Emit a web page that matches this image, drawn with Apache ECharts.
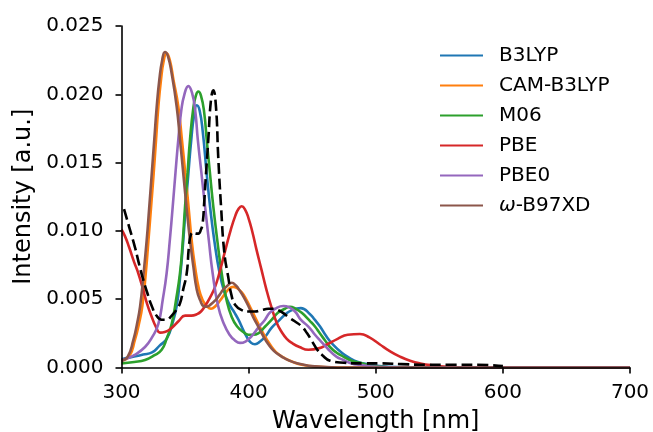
<!DOCTYPE html>
<html>
<head>
<meta charset="utf-8">
<script src="https://cdn.jsdelivr.net/npm/echarts@6/dist/echarts.min.js"></script>
<style>
  html, body { margin: 0; padding: 0; background: #fff; }
  #chart { width: 653px; height: 432px; }
</style>
</head>
<body>
<div id="chart"></div>
<script>
// Simulated absorption spectra of several functionals vs. experiment
// Each list holds [wavelength (nm), intensity (a.u.)]
const b3lyp = [
  [300, 0.0006], [303, 0.00068], [310, 0.0008], [317, 0.00095], [324, 0.0011],
  [330, 0.0016], [335.5, 0.0021], [340, 0.0032], [343.4, 0.0045], [346, 0.0065],
  [348.6, 0.0093], [350.5, 0.0118], [352.6, 0.0142], [355, 0.0168], [357, 0.0184],
  [359.2, 0.0192], [361.5, 0.0188], [364, 0.0172], [367, 0.0142], [370, 0.0115],
  [373, 0.0093], [377, 0.0070], [381, 0.0055], [385, 0.0046], [389, 0.0040],
  [392, 0.0035], [395.5, 0.0028], [398.5, 0.00225], [402, 0.0018], [405, 0.0017],
  [409, 0.0019], [413, 0.00225], [418, 0.0029], [423.4, 0.0034], [429, 0.0039],
  [434, 0.0042], [441, 0.00435], [448.3, 0.0039], [452, 0.0035],
  [456.2, 0.0030], [461, 0.0023], [466.6, 0.00165], [473, 0.0011], [479.8, 0.00067],
  [486, 0.0004], [493, 0.00025], [503, 0.0001], [520, 0.00002], [540, 0], [700, 0]
];
const camB3lyp = [
  [300, 0.0005], [306, 0.0008], [310.5, 0.0020], [313.5, 0.0031], [316.4, 0.0045],
  [319, 0.0068], [321.2, 0.0093], [323.3, 0.0118], [325.3, 0.0142], [327.2, 0.0167],
  [329, 0.0191], [331, 0.0210], [333.3, 0.0225], [335.5, 0.0230], [338, 0.0225],
  [341, 0.0210], [344.7, 0.0191], [347.5, 0.0167], [350.2, 0.0142], [352.7, 0.0118],
  [355.2, 0.0093], [357.8, 0.0074], [361, 0.0057], [364, 0.0049], [367, 0.0045],
  [370.4, 0.0043], [374, 0.0045], [377.5, 0.0049], [381.4, 0.0054], [385, 0.0058],
  [388, 0.0059], [391, 0.0058], [394.6, 0.0055], [398, 0.0050], [402.4, 0.0042],
  [406, 0.0035], [410.3, 0.0027], [414, 0.0021], [418.2, 0.0015], [423, 0.0010],
  [428.6, 0.00067], [435, 0.0004], [441.8, 0.0002], [455, 0.00005], [470, 0], [700, 0]
];
const m06 = [
  [300, 0.0003], [310, 0.0004], [318.5, 0.00055], [326, 0.0009], [331.6, 0.0013],
  [335.5, 0.0021], [339.5, 0.0032], [343, 0.0050], [346, 0.0069], [348, 0.0090],
  [350, 0.0118], [352, 0.0143], [353.9, 0.0167], [356.5, 0.0190], [358.5, 0.0199],
  [360.4, 0.0202], [362.5, 0.0199], [365, 0.0187], [367, 0.0167], [369.5, 0.0143],
  [372.2, 0.0118], [375.5, 0.0092], [378.8, 0.0069], [382.5, 0.0050], [386.7, 0.0037],
  [391, 0.0030], [395.8, 0.0026], [399.8, 0.0024], [403.5, 0.0024], [407.6, 0.0025],
  [413, 0.0030], [418.2, 0.0035], [423, 0.0040], [428.6, 0.0043], [432.5, 0.00445],
  [437, 0.0043], [441.8, 0.0040], [448.3, 0.0034], [452.2, 0.0030], [456, 0.0025],
  [460, 0.0020], [464, 0.0015], [469, 0.0011], [474.5, 0.0008], [481, 0.0005],
  [487.6, 0.00035], [495, 0.00015], [505, 0.00005], [520, 0], [700, 0]
];
const pbe = [
  [300, 0.0101], [302.8, 0.0096], [306, 0.0088], [310, 0.0077], [313.2, 0.0069],
  [317, 0.0057], [320, 0.0047], [323.8, 0.0037], [327, 0.0030], [330.3, 0.00255],
  [334, 0.0026], [339.5, 0.0029], [345, 0.0034], [350, 0.0038], [355, 0.0038],
  [359.2, 0.0039], [362.5, 0.0041], [365.7, 0.0045], [369.5, 0.0051], [373.6, 0.0059],
  [377.5, 0.0071], [381.4, 0.0085], [386, 0.0101], [389.5, 0.0111], [392, 0.0116],
  [394.5, 0.0118], [397, 0.0116], [400, 0.0109], [403, 0.0099], [406, 0.0087],
  [410, 0.0072], [414, 0.0057], [418, 0.0044], [422, 0.0033], [426, 0.0026],
  [430, 0.0021], [434, 0.0018], [440, 0.0015], [447, 0.0013], [455, 0.0014],
  [462, 0.0017], [470, 0.0021], [478, 0.0024], [487.6, 0.00245], [495, 0.0022],
  [503, 0.0017], [511, 0.0012], [519, 0.0008], [527, 0.0005], [535, 0.0003],
  [545, 0.00015], [556, 0.00005], [570, 0], [700, 0]
];
const pbe0 = [
  [300, 0.0005], [305, 0.0007], [310, 0.0009], [318.5, 0.0015], [324, 0.0022],
  [329, 0.0032], [332.5, 0.0050], [335.5, 0.0069], [338, 0.0093], [340.3, 0.0118],
  [342.5, 0.0143], [344.7, 0.0167], [347, 0.0188], [349.5, 0.0200], [352.6, 0.0206],
  [355.5, 0.0201], [358, 0.0188], [360, 0.0167], [362.8, 0.0143], [365.7, 0.0118],
  [368.7, 0.0093], [371.7, 0.0069], [376, 0.0045], [380.5, 0.0032], [385, 0.0024],
  [389, 0.0020], [393.2, 0.0018], [397.5, 0.0019], [402.4, 0.0023], [407.5, 0.0029],
  [412.9, 0.0035], [416.5, 0.0040], [420.8, 0.0043], [427.3, 0.0045], [432, 0.0044],
  [436.5, 0.0041], [441, 0.0035], [447, 0.0030], [452.2, 0.0024], [456, 0.0020],
  [460, 0.0016], [464, 0.0012], [469, 0.0008], [474.5, 0.00055], [481, 0.0003],
  [487.6, 0.0002], [500, 0.00005], [520, 0], [700, 0]
];
const wB97xd = [
  [300, 0.0005], [304.9, 0.0008], [309.3, 0.0020], [312, 0.0031], [314.6, 0.00445],
  [317.3, 0.0068], [319.8, 0.0093], [321.8, 0.0117], [323.8, 0.0142], [325.8, 0.0167],
  [327.7, 0.0191], [329.8, 0.0211], [332, 0.0225], [334.2, 0.0231], [336.5, 0.0228],
  [339.5, 0.0215], [343.4, 0.0191], [346, 0.0167], [348.6, 0.0142], [351.3, 0.0116],
  [353.9, 0.0093], [356.5, 0.0074], [359.2, 0.0057], [362, 0.0049], [364.5, 0.0045],
  [367, 0.00445], [370, 0.0046], [373.6, 0.0049], [377, 0.0053], [380, 0.0057],
  [383.5, 0.0060], [386.7, 0.0062], [390, 0.0060], [393.2, 0.0056], [396.5, 0.0051],
  [399.8, 0.0045], [403.5, 0.0037], [407.6, 0.0030], [411.5, 0.0023], [415.5, 0.0017],
  [420, 0.0012], [426, 0.0008], [432, 0.0005], [439, 0.0003], [452, 0.00008],
  [470, 0], [700, 0]
];
const experiment = [
  [302, 0.0116], [306, 0.0103], [310.6, 0.0088], [314, 0.0075], [317.2, 0.0064],
  [320.5, 0.0054], [323.8, 0.0045], [327.5, 0.0038], [331.6, 0.0035], [335.5, 0.0035],
  [339.5, 0.0038], [343, 0.0042], [346, 0.0047], [348.5, 0.0057], [351.3, 0.0069],
  [353, 0.0088], [354.5, 0.0097], [356.5, 0.0099], [358.5, 0.0098], [360.4, 0.0098],
  [362.5, 0.0101], [363.9, 0.0106], [365, 0.0120], [366, 0.0135], [368.3, 0.0167],
  [370.4, 0.0196], [372.2, 0.0203], [374.3, 0.0191], [376.1, 0.0154], [378.3, 0.0118],
  [380.9, 0.0084], [384, 0.0066], [386.5, 0.0053], [389.3, 0.0046], [394.6, 0.0042],
  [400, 0.0041], [405, 0.0041], [410, 0.0042], [415.5, 0.0043], [420, 0.0043],
  [423.4, 0.0042], [427, 0.0040], [431.2, 0.0037], [436, 0.0034], [441.8, 0.0030],
  [446, 0.0025], [450, 0.0019], [454, 0.0013], [458, 0.0009], [464, 0.0005],
  [475, 0.00035], [490, 0.0003], [505, 0.0003], [520, 0.00025], [540, 0.0002],
  [560, 0.0002], [580, 0.0002], [600, 0.0001]
];

const functionals = ['B3LYP', 'CAM-B3LYP', 'M06', 'PBE', 'PBE0', 'ω-B97XD'];
const spectra = [b3lyp, camB3lyp, m06, pbe, pbe0, wB97xd];
const colors = ['#1f77b4', '#ff7f0e', '#2ca02c', '#d62728', '#9467bd', '#8c564b'];

const xTicks = { min: 300, max: 700, step: 100 };
const yTicks = { min: 0, max: 0.025, step: 0.005 };

const FONT = 'DejaVu Sans';
const LW = 2.6;

const series = functionals.map((name, i) => ({
  name,
  type: 'line',
  data: spectra[i],
  smooth: 0.5,
  symbol: 'none',
  lineStyle: { color: colors[i], width: LW },
  itemStyle: { color: colors[i] },
  z: 2 + i
}));
series.push({
  name: 'Experiment',
  type: 'line',
  data: experiment,
  smooth: 0.5,
  symbol: 'none',
  lineStyle: { color: '#000', width: LW, type: [11, 4.8] },
  itemStyle: { color: '#000' },
  z: 9
});

const chart = echarts.init(document.getElementById('chart'), null, { renderer: 'canvas' });
chart.setOption({
  animation: false,
  backgroundColor: '#fff',
  textStyle: { fontFamily: FONT },
  grid: {
    left: 121.5, right: 23, top: 26, bottom: 64.5,
    containLabel: false, outerBoundsMode: 'none'
  },
  legend: {
    data: functionals,
    orient: 'vertical',
    left: 440,
    top: 45.5,
    padding: 0,
    itemWidth: 43,
    itemHeight: 14,
    itemGap: 10,
    icon: 'path://M0,6 L43,6 L43,8 L0,8 Z',
    textStyle: {
      fontFamily: FONT, fontSize: 20, color: '#000', padding: [0, 0, 0, 11],
      rich: { w: { fontFamily: FONT, fontSize: 20, fontStyle: 'italic', color: '#000' } }
    },
    formatter: n => n.startsWith('ω') ? '{w|ω}' + n.slice(1) : n
  },
  xAxis: {
    type: 'value',
    min: xTicks.min, max: xTicks.max, interval: xTicks.step,
    z: 20,
    name: 'Wavelength [nm]',
    nameLocation: 'middle',
    nameGap: 42,
    nameTextStyle: { fontFamily: FONT, fontSize: 24, color: '#000' },
    axisLine: { show: true, lineStyle: { color: '#000', width: 1.6 } },
    axisTick: { show: true, length: 6, lineStyle: { color: '#000', width: 1.6 } },
    axisLabel: { fontFamily: FONT, fontSize: 20, color: '#000', margin: 15 },
    splitLine: { show: false }
  },
  yAxis: {
    type: 'value',
    min: yTicks.min, max: yTicks.max, interval: yTicks.step,
    z: 20,
    name: 'Intensity [a.u.]',
    nameLocation: 'middle',
    nameRotate: 90,
    nameGap: 84,
    nameTextStyle: { fontFamily: FONT, fontSize: 24, color: '#000' },
    axisLine: { show: true, lineStyle: { color: '#000', width: 1.6 } },
    axisTick: { show: true, length: 6, lineStyle: { color: '#000', width: 1.6 } },
    axisLabel: { fontFamily: FONT, fontSize: 20, color: '#000', margin: 18, formatter: v => v.toFixed(3) },
    splitLine: { show: false }
  },
  series
});
</script>
</body>
</html>
